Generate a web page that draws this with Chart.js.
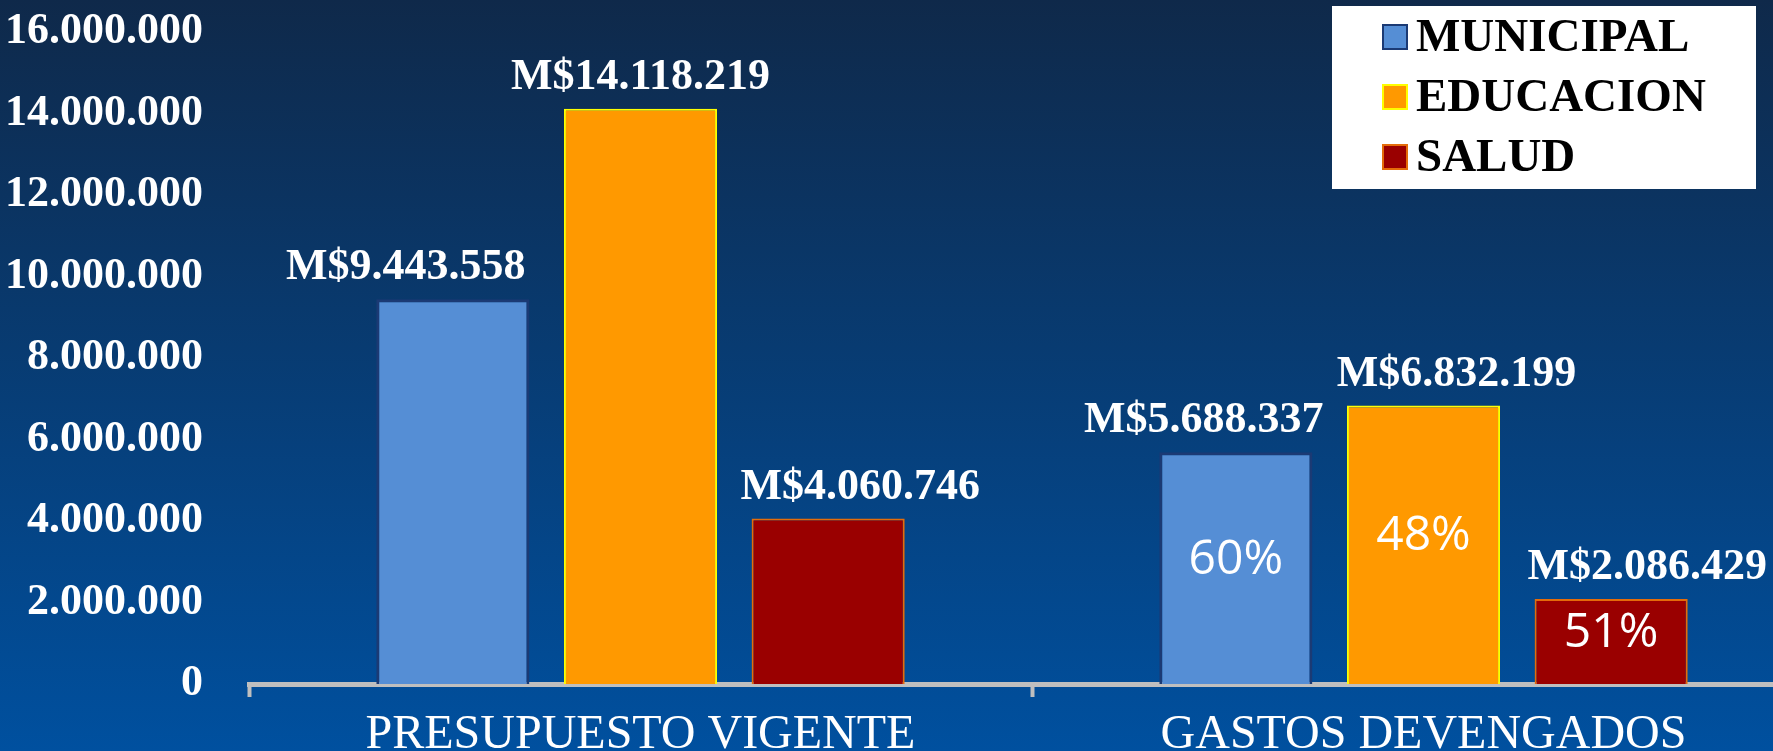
<!DOCTYPE html>
<html>
<head>
<meta charset="utf-8">
<script src="https://cdn.jsdelivr.net/npm/chart.js@4.4.1/dist/chart.umd.min.js"></script>
<style>
  html, body {
    margin: 0;
    padding: 0;
    width: 1773px;
    height: 751px;
    overflow: hidden;
    background: linear-gradient(to bottom, #0f294a 0%, #00509f 100%);
  }
  .chart-wrapper {
    width: 1815px;
    height: 751px;
  }
</style>
</head>
<body>
<div class="chart-wrapper">
  <canvas id="chart" width="1815" height="751"></canvas>
</div>
<script>
const categories = ['PRESUPUESTO VIGENTE', 'GASTOS DEVENGADOS'];
const seriesNames = ['MUNICIPAL', 'EDUCACION', 'SALUD'];
const municipal = [9443558, 5688337];
const educacion = [14118219, 6832199];
const salud = [4060746, 2086429];
const percentLabels = [null, '60%', null, '48%', null, '51%']; // [pres, gastos] per series, flattened
const yTicks = [0, 2000000, 4000000, 6000000, 8000000, 10000000, 12000000, 14000000, 16000000];

const dotted = v => String(v).replace(/\B(?=(\d{3})+(?!\d))/g, '.');

// nudges of the value labels, as in the original slide
const labelShift = [[-47, -32], [0, 33], [32, 36]];

const valueLabels = {
  id: 'valueLabels',
  afterDatasetsDraw(chart) {
    const ctx = chart.ctx;
    ctx.save();
    chart.data.datasets.forEach((ds, di) => {
      const meta = chart.getDatasetMeta(di);
      meta.data.forEach((bar, i) => {
        ctx.fillStyle = '#ffffff';
        ctx.textAlign = 'center';
        ctx.textBaseline = 'alphabetic';
        ctx.font = 'bold 44px "Liberation Serif", "Times New Roman", serif';
        ctx.fillText('M$' + dotted(ds.data[i]), bar.x + labelShift[di][i], bar.y - 20);

        const pct = percentLabels[di * 2 + i];
        if (pct) {
          ctx.font = '48px "Open Sans", sans-serif';
          ctx.textBaseline = 'middle';
          ctx.fillText(pct, bar.x, (bar.y + bar.base) / 2 - 8);
        }
      });
    });
    ctx.restore();
  }
};

const boxLegend = {
  id: 'boxLegend',
  afterDraw(chart) {
    const ctx = chart.ctx;
    ctx.save();
    ctx.fillStyle = '#ffffff';
    ctx.fillRect(1332, 6, 424, 183);
    chart.data.datasets.forEach((ds, i) => {
      const cy = 37 + i * 60;
      ctx.fillStyle = ds.backgroundColor;
      ctx.fillRect(1383, cy - 12, 24, 24);
      ctx.strokeStyle = ds.borderColor;
      ctx.lineWidth = 2;
      ctx.strokeRect(1383, cy - 12, 24, 24);
      ctx.fillStyle = '#000000';
      ctx.font = 'bold 47px "Liberation Serif", "Times New Roman", serif';
      ctx.textAlign = 'left';
      ctx.textBaseline = 'middle';
      ctx.fillText(ds.label, 1416, cy + 2);
    });
    ctx.restore();
  }
};

const ctx = document.getElementById('chart').getContext('2d');
new Chart(ctx, {
  type: 'bar',
  data: {
    labels: categories,
    datasets: [
      {
        label: seriesNames[0],
        data: municipal,
        backgroundColor: '#558ed5',
        borderColor: '#1b3a74',
        borderWidth: 3
      },
      {
        label: seriesNames[1],
        data: educacion,
        backgroundColor: '#ff9900',
        borderColor: '#ffff00',
        borderWidth: 2
      },
      {
        label: seriesNames[2],
        data: salud,
        backgroundColor: '#9a0000',
        borderColor: '#e46c0a',
        borderWidth: 2
      }
    ]
  },
  plugins: [valueLabels, boxLegend],
  options: {
    responsive: false,
    animation: false,
    categoryPercentage: 0.719,
    barPercentage: 0.816,
    layout: { padding: { top: 32, right: 0, left: 0, bottom: 0 } },
    plugins: {
      legend: { display: false },
      tooltip: { enabled: false }
    },
    scales: {
      x: {
        grid: {
          drawOnChartArea: false,
          drawTicks: true,
          tickLength: 13,
          tickWidth: 4,
          tickColor: '#bfbfbf',
          offset: true
        },
        border: { display: true, color: '#bfbfbf', width: 5 },
        ticks: {
          color: '#ffffff',
          padding: 10,
          font: { family: '"Liberation Serif", "Times New Roman", serif', size: 48 }
        },
        afterFit: scale => {
          scale.height = 67;
          scale.paddingLeft = 0;
          scale.paddingRight = 0;
        }
      },
      y: {
        min: 0,
        max: 16000000,
        grid: { display: false },
        border: { display: false },
        afterBuildTicks: scale => {
          scale.ticks = yTicks.map(v => ({ value: v }));
        },
        ticks: {
          color: '#ffffff',
          padding: 38,
          callback: v => dotted(v),
          font: { family: '"Liberation Serif", "Times New Roman", serif', size: 44, weight: 'bold' }
        },
        afterFit: scale => {
          scale.width = 249;
          scale.paddingTop = 0;
          scale.paddingBottom = 0;
        }
      }
    }
  }
});
</script>
</body>
</html>
